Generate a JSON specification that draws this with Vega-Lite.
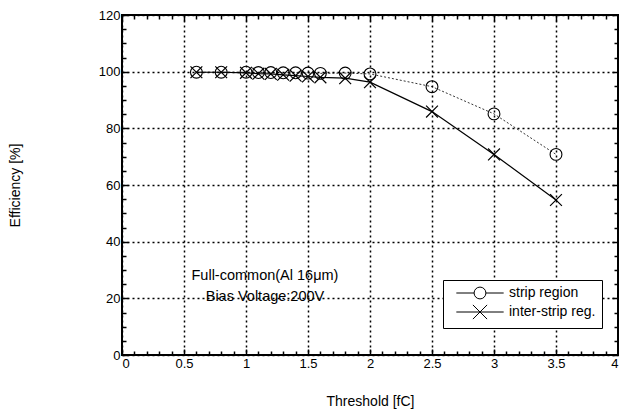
{
  "$schema": "https://vega.github.io/schema/vega-lite/v6.json",
  "autosize": "none",
  "width": 496,
  "height": 340,
  "padding": {"left": 122, "top": 15, "right": 1, "bottom": 64},
  "background": "white",
  "config": {
    "view": {"stroke": "black", "strokeWidth": 2},
    "font": "Liberation Sans",
    "axis": {"labelFont": "Liberation Sans", "titleFont": "Liberation Sans", "labelColor": "black", "titleColor": "black", "titleFontWeight": "normal", "tickColor": "black", "domain": false}
  },
  "datasets": {
    "eff": [
      {"threshold": 0.6, "efficiency": 99.8, "series": "strip region"},
      {"threshold": 0.8, "efficiency": 99.8, "series": "strip region"},
      {"threshold": 1.0, "efficiency": 99.8, "series": "strip region"},
      {"threshold": 1.1, "efficiency": 99.7, "series": "strip region"},
      {"threshold": 1.2, "efficiency": 99.7, "series": "strip region"},
      {"threshold": 1.3, "efficiency": 99.6, "series": "strip region"},
      {"threshold": 1.4, "efficiency": 99.6, "series": "strip region"},
      {"threshold": 1.5, "efficiency": 99.5, "series": "strip region"},
      {"threshold": 1.6, "efficiency": 99.4, "series": "strip region"},
      {"threshold": 1.8, "efficiency": 99.5, "series": "strip region"},
      {"threshold": 2.0, "efficiency": 99.2, "series": "strip region"},
      {"threshold": 2.5, "efficiency": 94.7, "series": "strip region"},
      {"threshold": 3.0, "efficiency": 85.1, "series": "strip region"},
      {"threshold": 3.5, "efficiency": 70.8, "series": "strip region"},
      {"threshold": 0.6, "efficiency": 99.8, "series": "inter-strip reg."},
      {"threshold": 0.8, "efficiency": 99.8, "series": "inter-strip reg."},
      {"threshold": 1.0, "efficiency": 99.6, "series": "inter-strip reg."},
      {"threshold": 1.1, "efficiency": 99.3, "series": "inter-strip reg."},
      {"threshold": 1.2, "efficiency": 99.2, "series": "inter-strip reg."},
      {"threshold": 1.3, "efficiency": 98.9, "series": "inter-strip reg."},
      {"threshold": 1.4, "efficiency": 98.6, "series": "inter-strip reg."},
      {"threshold": 1.5, "efficiency": 98.3, "series": "inter-strip reg."},
      {"threshold": 1.6, "efficiency": 98.0, "series": "inter-strip reg."},
      {"threshold": 1.8, "efficiency": 97.7, "series": "inter-strip reg."},
      {"threshold": 2.0, "efficiency": 96.3, "series": "inter-strip reg."},
      {"threshold": 2.5, "efficiency": 85.9, "series": "inter-strip reg."},
      {"threshold": 3.0, "efficiency": 70.8, "series": "inter-strip reg."},
      {"threshold": 3.5, "efficiency": 54.7, "series": "inter-strip reg."}
    ],
    "notes": [
      {"threshold": 1.153, "efficiency": 27.9, "text": "Full-common(Al 16μm)"},
      {"threshold": 1.153, "efficiency": 20.5, "text": "Bias Voltage:200V"}
    ]
  },
  "layer": [
    {
      "data": {"name": "eff"},
      "transform": [{"filter": "datum.series == 'strip region'"}],
      "mark": {"type": "line", "color": "black", "strokeDash": [2, 2], "strokeWidth": 0.8},
      "encoding": {
        "x": {
          "field": "threshold", "type": "quantitative",
          "scale": {"domain": [0, 4], "nice": false, "zero": false},
          "title": "Threshold [fC]",
          "axis": {
            "orient": "bottom",
            "values": [0,0.1,0.2,0.3,0.4,0.5,0.6,0.7,0.8,0.9,1,1.1,1.2,1.3,1.4,1.5,1.6,1.7,1.8,1.9,2,2.1,2.2,2.3,2.4,2.5,2.6,2.7,2.8,2.9,3,3.1,3.2,3.3,3.4,3.5,3.6,3.7,3.8,3.9,4],
            "format": "~g",
            "labelExpr": "abs(datum.value*2 - round(datum.value*2)) < 0.01 ? datum.label : ''",
            "labelOverlap": false,
            "labelFontSize": 13,
            "labelPadding": 8,
            "tickSize": {"condition": {"test": "abs(datum.value*2 - round(datum.value*2)) < 0.01", "value": -6}, "value": -4},
            "tickWidth": 1.5,
            "grid": true,
            "gridColor": "black",
            "gridDash": [2, 3],
            "gridWidth": 1.5,
            "gridOpacity": {"condition": {"test": "abs(datum.value*2 - round(datum.value*2)) < 0.01", "value": 1}, "value": 0},
            "titleFontSize": 14,
            "titlePadding": 22
          }
        },
        "y": {
          "field": "efficiency", "type": "quantitative",
          "scale": {"domain": [0, 120], "nice": false},
          "title": "Efficiency [%]",
          "axis": {
            "orient": "left",
            "values": [0,5,10,15,20,25,30,35,40,45,50,55,60,65,70,75,80,85,90,95,100,105,110,115,120],
            "labelExpr": "datum.value % 20 == 0 ? datum.label : ''",
            "labelOverlap": false,
            "labelFontSize": 13,
            "labelPadding": 8,
            "tickSize": {"condition": {"test": "datum.value % 20 == 0", "value": -6}, "value": -4},
            "tickWidth": 1.5,
            "grid": true,
            "gridColor": "black",
            "gridDash": [2, 3],
            "gridWidth": 1.5,
            "gridOpacity": {"condition": {"test": "datum.value % 20 == 0", "value": 1}, "value": 0},
            "titleFontSize": 14,
            "titlePadding": 76
          }
        }
      }
    },
    {
      "data": {"name": "eff"},
      "transform": [{"filter": "datum.series == 'inter-strip reg.'"}],
      "mark": {"type": "line", "color": "black", "strokeWidth": 1.2},
      "encoding": {
        "x": {"field": "threshold", "type": "quantitative", "axis": null},
        "y": {"field": "efficiency", "type": "quantitative", "axis": null}
      }
    },
    {
      "data": {"name": "eff"},
      "transform": [{"filter": "datum.series == 'strip region'"}],
      "mark": {"type": "point", "shape": "circle", "filled": false, "stroke": "black", "strokeWidth": 1.1, "size": 140, "opacity": 1},
      "encoding": {
        "x": {"field": "threshold", "type": "quantitative", "axis": null},
        "y": {"field": "efficiency", "type": "quantitative", "axis": null}
      }
    },
    {
      "data": {"name": "eff"},
      "transform": [{"filter": "datum.series == 'inter-strip reg.'"}],
      "mark": {"type": "point", "shape": "M-1,-1L1,1M-1,1L1,-1", "filled": false, "stroke": "black", "strokeWidth": 1.2, "size": 140, "opacity": 1},
      "encoding": {
        "x": {"field": "threshold", "type": "quantitative", "axis": null},
        "y": {"field": "efficiency", "type": "quantitative", "axis": null}
      }
    },
    {
      "data": {"name": "eff"},
      "mark": {"type": "point", "filled": false, "stroke": "black", "strokeWidth": 1, "size": 140, "opacity": 0},
      "encoding": {
        "x": {
          "field": "threshold", "type": "quantitative",
          "axis": {
            "orient": "top", "labels": false, "title": null, "grid": false,
            "values": [0,0.1,0.2,0.3,0.4,0.5,0.6,0.7,0.8,0.9,1,1.1,1.2,1.3,1.4,1.5,1.6,1.7,1.8,1.9,2,2.1,2.2,2.3,2.4,2.5,2.6,2.7,2.8,2.9,3,3.1,3.2,3.3,3.4,3.5,3.6,3.7,3.8,3.9,4],
            "tickSize": {"condition": {"test": "abs(datum.value*2 - round(datum.value*2)) < 0.01", "value": -6}, "value": -4},
            "tickWidth": 1.5
          }
        },
        "y": {
          "field": "efficiency", "type": "quantitative",
          "axis": {
            "orient": "right", "labels": false, "title": null, "grid": false,
            "values": [0,5,10,15,20,25,30,35,40,45,50,55,60,65,70,75,80,85,90,95,100,105,110,115,120],
            "tickSize": {"condition": {"test": "datum.value % 20 == 0", "value": -6}, "value": -4},
            "tickWidth": 1.5
          }
        },
        "shape": {
          "field": "series", "type": "nominal",
          "scale": {"domain": ["strip region", "inter-strip reg."], "range": ["M-4,0H-1M1,0H4M-1,0A1,1 0 1,0 1,0A1,1 0 1,0 -1,0", "M-4,0H4M-1.2,-1.2L1.2,1.2M-1.2,1.2L1.2,-1.2"]},
          "legend": {
            "title": null,
            "orient": "none",
            "legendX": 321,
            "legendY": 265,
            "direction": "vertical",
            "fillColor": "white",
            "strokeColor": "black",
            "cornerRadius": 0,
            "padding": 6,
            "symbolSize": 140,
            "symbolOffset": 24,
            "labelOffset": 22,
            "symbolOpacity": 1,
            "symbolStrokeWidth": 1,
            "symbolStrokeColor": "black",
            "symbolFillColor": "transparent",
            "labelFont": "Liberation Sans",
            "labelFontSize": 14,
            "labelColor": "black",
            "rowPadding": 1
          }
        }
      }
    },
    {
      "data": {"name": "notes"},
      "mark": {"type": "text", "font": "Liberation Sans", "fontSize": 14.5, "color": "black", "align": "center", "baseline": "middle"},
      "encoding": {
        "x": {"field": "threshold", "type": "quantitative", "axis": null},
        "y": {"field": "efficiency", "type": "quantitative", "axis": null},
        "text": {"field": "text"}
      }
    }
  ],
  "resolve": {"axis": {"x": "independent", "y": "independent"}}
}
